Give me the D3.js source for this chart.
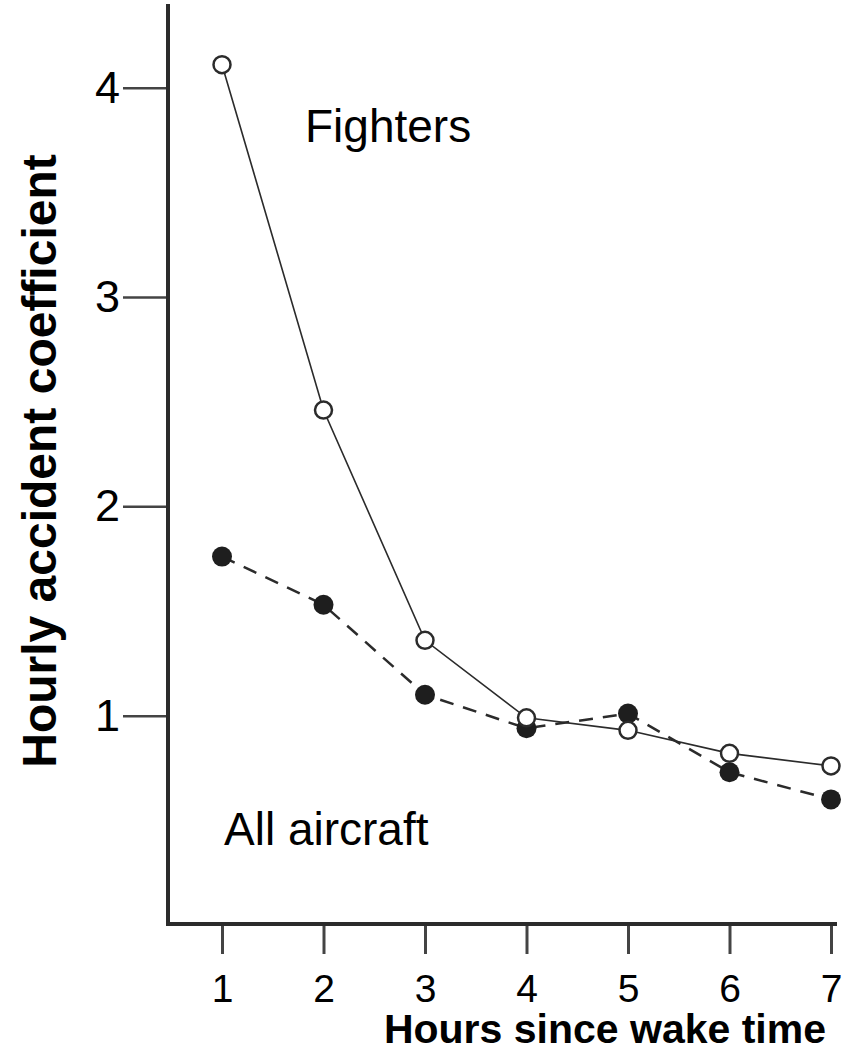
<!DOCTYPE html>
<html>
<head>
<meta charset="utf-8">
<script src="https://cdn.jsdelivr.net/npm/d3@7"></script>
<style>
  body { margin: 0; background: #fff; }
  svg { display: block; font-family: "Liberation Sans", Arial, sans-serif; }
</style>
</head>
<body>
<svg id="chart" width="849" height="1054"></svg>
<script>
// hours since wake time
const hours = [1, 2, 3, 4, 5, 6, 7];
const fighters = [4.11, 2.46, 1.36, 0.99, 0.93, 0.82, 0.76];
const allAircraft = [1.76, 1.53, 1.10, 0.94, 1.01, 0.73, 0.60];
const yTicks = [1, 2, 3, 4];

const svg = d3.select('#chart');
const ink = '#2b2b2b';
const font = '"Liberation Sans", Arial, sans-serif';

const x = d3.scaleLinear().domain([1, 7]).range([222, 831]);
const y = d3.scaleLinear().domain([0, 4.4]).range([925, 4]);
const left = 168;

// axes
const yAxis = svg.append('g')
    .attr('transform', `translate(${left},0)`)
    .call(d3.axisLeft(y).tickValues(yTicks).tickFormat(d3.format('d'))
        .tickSize(45).tickPadding(3).tickSizeOuter(0));
yAxis.attr('font-family', font);
yAxis.select('.domain').remove();
yAxis.selectAll('.tick line').attr('stroke', '#444').attr('stroke-width', 2.5);
yAxis.selectAll('.tick text')
    .attr('fill', '#000')
    .style('font-size', '45px');

const xAxis = svg.append('g')
    .attr('transform', `translate(0,${y(0) - 1})`)
    .call(d3.axisBottom(x).tickValues(hours).tickFormat(d3.format('d'))
        .tickSize(30).tickPadding(20));
xAxis.attr('font-family', font);
xAxis.select('.domain').remove();
xAxis.selectAll('.tick line').attr('stroke', '#444').attr('stroke-width', 3);
xAxis.selectAll('.tick text')
    .attr('fill', '#000')
    .style('font-size', '39px');

svg.append('line')
    .attr('x1', left).attr('x2', left)
    .attr('y1', y.range()[1]).attr('y2', y(0))
    .attr('stroke', ink).attr('stroke-width', 4);

svg.append('line')
    .attr('x1', left - 2).attr('x2', x(7) + 6)
    .attr('y1', y(0) - 1).attr('y2', y(0) - 1)
    .attr('stroke', ink).attr('stroke-width', 4);

// series
const line = d3.line().x((d, i) => x(hours[i])).y(d => y(d));

svg.append('path')
    .datum(allAircraft)
    .attr('d', line)
    .attr('fill', 'none')
    .attr('stroke', ink)
    .attr('stroke-width', 2.5)
    .attr('stroke-dasharray', '14 10');

svg.append('path')
    .datum(fighters)
    .attr('d', line)
    .attr('fill', 'none')
    .attr('stroke', ink)
    .attr('stroke-width', 1.6);

svg.append('g')
    .selectAll('circle')
    .data(allAircraft)
    .join('circle')
    .attr('cx', (d, i) => x(hours[i]))
    .attr('cy', d => y(d))
    .attr('r', 10)
    .attr('fill', '#1e1e1e');

svg.append('g')
    .selectAll('circle')
    .data(fighters)
    .join('circle')
    .attr('cx', (d, i) => x(hours[i]))
    .attr('cy', d => y(d))
    .attr('r', 8.5)
    .attr('fill', '#fff')
    .attr('stroke', ink)
    .attr('stroke-width', 2.5);

// labels
svg.append('text')
    .attr('x', 305).attr('y', 142)
    .style('font-size', '46px')
    .text('Fighters');

svg.append('text')
    .attr('x', 224).attr('y', 845)
    .style('font-size', '46px')
    .text('All aircraft');

svg.append('text')
    .attr('x', 826).attr('y', 1043)
    .attr('text-anchor', 'end')
    .style('font-size', '41px')
    .style('font-weight', 'bold')
    .text('Hours since wake time');

svg.append('text')
    .attr('transform', 'translate(56,461) rotate(-90)')
    .attr('text-anchor', 'middle')
    .style('font-size', '48px')
    .style('font-weight', 'bold')
    .text('Hourly accident coefficient');
</script>
</body>
</html>
